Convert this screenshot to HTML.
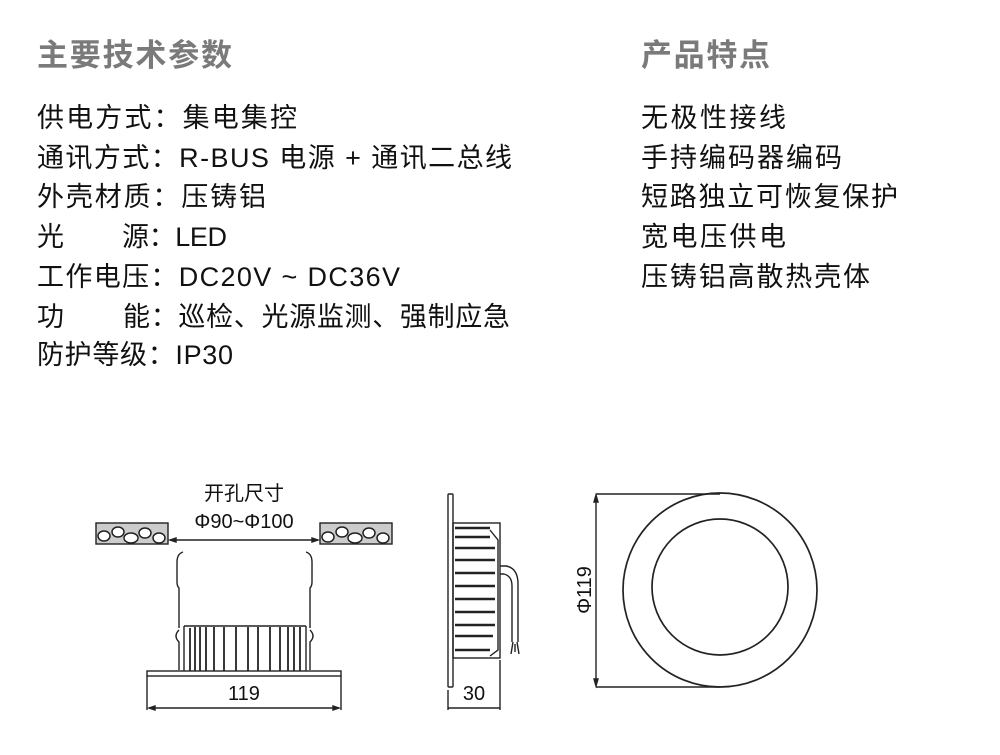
<!DOCTYPE html>
<html><head><meta charset="utf-8"><style>
body{margin:0;background:#fff;}
svg{display:block}
.t{font-family:"Liberation Sans","Noto Sans CJK SC",sans-serif;fill:#111;font-size:27px}
.h{font-family:"Liberation Sans","Noto Sans CJK SC",sans-serif;fill:#7a7a7a;font-size:31px;font-weight:bold}
.d{font-family:"Liberation Sans","Noto Sans CJK SC",sans-serif;fill:#111;font-size:20px}
</style></head><body>
<svg width="1000" height="755" viewBox="0 0 1000 755" xmlns="http://www.w3.org/2000/svg">
<text class="h" x="37" y="66" textLength="195" lengthAdjust="spacing">主要技术参数</text>
<text class="h" x="641" y="66" textLength="129" lengthAdjust="spacing">产品特点</text>
<g class="t">
<text x="37" y="127" textLength="260" lengthAdjust="spacing">供电方式：集电集控</text>
<text x="37" y="167" textLength="475" lengthAdjust="spacing">通讯方式：R-BUS 电源 + 通讯二总线</text>
<text x="37" y="206" textLength="229" lengthAdjust="spacing">外壳材质：压铸铝</text>
<text x="37" y="246">光</text>
<text x="122" y="246" textLength="105" lengthAdjust="spacing">源：LED</text>
<text x="37" y="286" textLength="363" lengthAdjust="spacing">工作电压：DC20V ~ DC36V</text>
<text x="37" y="326">功</text>
<text x="123" y="326" textLength="387" lengthAdjust="spacing">能：巡检、光源监测、强制应急</text>
<text x="37" y="364" textLength="196" lengthAdjust="spacing">防护等级：IP30</text>
<text x="641" y="127" textLength="145" lengthAdjust="spacing">无极性接线</text>
<text x="641" y="167" textLength="201" lengthAdjust="spacing">手持编码器编码</text>
<text x="641" y="206" textLength="257" lengthAdjust="spacing">短路独立可恢复保护</text>
<text x="641" y="246" textLength="145" lengthAdjust="spacing">宽电压供电</text>
<text x="641" y="286" textLength="229" lengthAdjust="spacing">压铸铝高散热壳体</text>
</g>
<g stroke="#222" fill="none" stroke-width="1.4">
<text class="d" x="244" y="500" text-anchor="middle" stroke="none">开孔尺寸</text>
<text class="d" x="244" y="528" text-anchor="middle" stroke="none">Φ90~Φ100</text>
<rect x="96" y="523" width="72" height="21" fill="#ccc"/>
<rect x="320" y="523" width="72" height="21" fill="#ccc"/>
<g fill="#fff" stroke="#222" stroke-width="1.5">
<ellipse cx="104" cy="536" rx="6" ry="5"/><ellipse cx="118" cy="532" rx="6" ry="5"/><ellipse cx="131" cy="538" rx="7" ry="5"/><ellipse cx="145" cy="533" rx="6" ry="5"/><ellipse cx="159" cy="538" rx="6" ry="5"/>
<ellipse cx="328" cy="537" rx="6" ry="5"/><ellipse cx="342" cy="532" rx="6" ry="5"/><ellipse cx="355" cy="538" rx="7" ry="5"/><ellipse cx="369" cy="533" rx="6" ry="5"/><ellipse cx="383" cy="538" rx="6" ry="5"/>
</g>
<line x1="170" y1="540" x2="318" y2="540"/>
<path d="M170 540 l6 -2 v4z M318 540 l-6 -2 v4z" fill="#222"/>
<path d="M183 552 q-6 2 -6 10 v20 q0 4 2 6 v40 M306 552 q6 2 6 10 v20 q0 4 -2 6 v40"/>
<path d="M179 630 q-6 6 0 12 v28 M310 630 q6 6 0 12 v28"/>
<path d="M184 626 h122 M184 626 v45 M306 626 v45"/>
<g stroke-width="1.8"><path d="M190 628v43M195 627v44M200 627v44M206 627v44M214 627v44M224 627v44M236 627v44M248 627v44M258 627v44M270 627v44M280 627v44M288 627v44M294 627v44M300 627v44"/></g>
<rect x="147" y="671" width="194" height="5"/>
<path d="M147 676 v34 M341 676 v34 M149 708 h190"/>
<path d="M149 708 l6 -2 v4z M339 708 l-6 -2 v4z" fill="#222"/>
<text class="d" x="244" y="700" text-anchor="middle" stroke="none">119</text>
<rect x="448" y="494" width="5" height="193" rx="1"/>
<rect x="453" y="523" width="47" height="135"/>
<g stroke-width="2.6"><path d="M455 528h35M455 537h35M455 548h40M455 560h40M455 573h40M455 586h40M455 599h40M455 612h40M455 625h40M455 636h38M455 650h35"/></g>
<path d="M490 530 l8 10 v110 l-8 6"/>
<path d="M500 566 h6 q12 2 12 18 v58 M500 574 h4 q8 2 8 12 v56"/>
<path d="M517 642 l2 12 M513 642 l-2 12 M515 644 v8"/>
<path d="M448 690 v20 M500 660 v50 M448 708 h52"/>
<text class="d" x="474" y="700" text-anchor="middle" stroke="none">30</text>
<circle cx="720" cy="590" r="97" stroke-width="1.7"/>
<circle cx="720" cy="587" r="68" stroke-width="1.7"/>
<path d="M596 494 h124 M596 687 h124 M596 496 v189"/>
<path d="M596 495 l-2 7 h4z M596 686 l-2 -7 h4z" fill="#222"/>
<text class="d" x="0" y="0" text-anchor="middle" stroke="none" transform="translate(591 590) rotate(-90)">Φ119</text>
</g>
</svg>
</body></html>
